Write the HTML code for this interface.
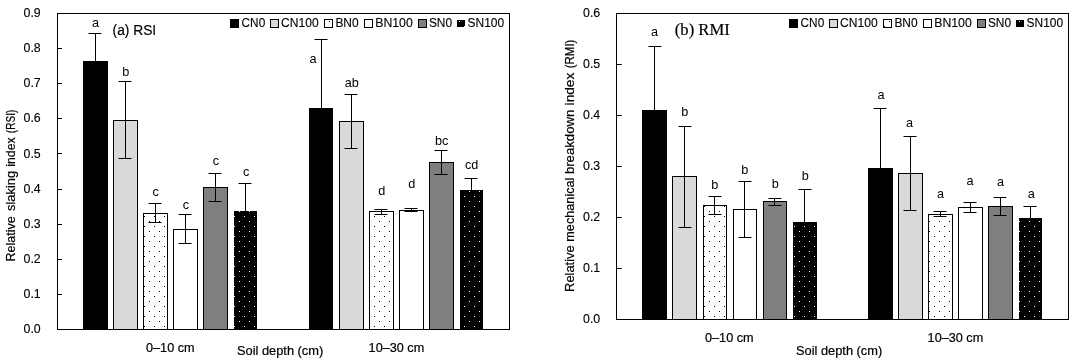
<!DOCTYPE html>
<html><head><meta charset="utf-8"><title>RSI and RMI charts</title>
<style>html,body{margin:0;padding:0;background:#fff}svg{display:block;will-change:transform}</style>
</head><body>
<svg width="1076" height="363" viewBox="0 0 1076 363" fill="#000"><style>.b{stroke:#000;stroke-width:0.2px}.l{stroke:#000;stroke-width:0.18px}.t{stroke:#000;stroke-width:0.12px}</style>
<rect width="1076" height="363" fill="#fff"/>
<defs><pattern id="pk" patternUnits="userSpaceOnUse" width="10" height="10"><rect x="4" y="6" width="1" height="1" fill="#000"/><rect x="9" y="1" width="1" height="1" fill="#000"/></pattern><pattern id="pw" patternUnits="userSpaceOnUse" width="10" height="10"><rect x="4" y="6" width="1" height="1" fill="#fff"/><rect x="9" y="1" width="1" height="1" fill="#fff"/></pattern></defs>
<rect x="83" y="61" width="25" height="268.5" fill="#000"/>
<path d="M95.5 33.0V61M88.5 33.5H101.5" stroke="#000" stroke-width="1" fill="none"/>
<rect x="113.5" y="120.5" width="24.0" height="209.0" fill="#d9d9d9" stroke="#000" stroke-width="1"/>
<path d="M125.5 81.0V159.0M118.5 81.5H131.5M118.5 158.5H131.5" stroke="#000" stroke-width="1" fill="none"/>
<rect x="143.50" y="214.00" width="24.00" height="115.50" fill="url(#pk)"/>
<rect x="143.5" y="213.5" width="24.0" height="116.0" fill="none" stroke="#000" stroke-width="1"/>
<path d="M155.5 203.0V223.0M148.5 203.5H161.5M148.5 222.5H161.5" stroke="#000" stroke-width="1" fill="none"/>
<rect x="173.5" y="229.5" width="24.0" height="100.0" fill="#fff" stroke="#000" stroke-width="1"/>
<path d="M185.5 214.0V244.0M178.5 214.5H191.5M178.5 243.5H191.5" stroke="#000" stroke-width="1" fill="none"/>
<rect x="203.5" y="187.5" width="24.0" height="142.0" fill="#7f7f7f" stroke="#000" stroke-width="1"/>
<path d="M215.5 173.0V202.0M208.5 173.5H221.5M208.5 201.5H221.5" stroke="#000" stroke-width="1" fill="none"/>
<rect x="234" y="211" width="23" height="118.5" fill="#000"/>
<rect x="234.00" y="211.00" width="23.00" height="118.50" fill="url(#pw)"/>
<path d="M245.5 183.0V211M238.5 183.5H251.5" stroke="#000" stroke-width="1" fill="none"/>
<rect x="309" y="108" width="24" height="221.5" fill="#000"/>
<path d="M321.5 39.0V108M314.5 39.5H327.5" stroke="#000" stroke-width="1" fill="none"/>
<rect x="339.5" y="121.5" width="24.0" height="208.0" fill="#d9d9d9" stroke="#000" stroke-width="1"/>
<path d="M351.5 94.0V149.0M344.5 94.5H357.5M344.5 148.5H357.5" stroke="#000" stroke-width="1" fill="none"/>
<rect x="369.50" y="212.00" width="24.00" height="117.50" fill="url(#pk)"/>
<rect x="369.5" y="211.5" width="24.0" height="118.0" fill="none" stroke="#000" stroke-width="1"/>
<path d="M381.5 209.0V215.0M374.5 209.5H387.5M374.5 214.5H387.5" stroke="#000" stroke-width="1" fill="none"/>
<rect x="399.5" y="210.5" width="24.0" height="119.0" fill="#fff" stroke="#000" stroke-width="1"/>
<path d="M411.5 208.0V212.0M404.5 208.5H417.5M404.5 211.5H417.5" stroke="#000" stroke-width="1" fill="none"/>
<rect x="429.5" y="162.5" width="24.0" height="167.0" fill="#7f7f7f" stroke="#000" stroke-width="1"/>
<path d="M441.5 150.0V175.0M434.5 150.5H447.5M434.5 174.5H447.5" stroke="#000" stroke-width="1" fill="none"/>
<rect x="460" y="190" width="23" height="139.5" fill="#000"/>
<rect x="460.00" y="190.00" width="23.00" height="139.50" fill="url(#pw)"/>
<path d="M471.5 178.0V190M464.5 178.5H477.5" stroke="#000" stroke-width="1" fill="none"/>
<rect x="57.5" y="13.5" width="452.0" height="316.00" fill="none" stroke="#000" stroke-width="1"/>
<text x="23.5" y="333.00" font-size="12.3" text-anchor="start" font-family="Liberation Sans, sans-serif" textLength="17.2" lengthAdjust="spacingAndGlyphs" class="t">0.0</text>
<path d="M57.5 294.50h4.4" stroke="#000" stroke-width="1"/>
<text x="23.5" y="298.00" font-size="12.3" text-anchor="start" font-family="Liberation Sans, sans-serif" textLength="17.2" lengthAdjust="spacingAndGlyphs" class="t">0.1</text>
<path d="M57.5 259.50h4.4" stroke="#000" stroke-width="1"/>
<text x="23.5" y="263.00" font-size="12.3" text-anchor="start" font-family="Liberation Sans, sans-serif" textLength="17.2" lengthAdjust="spacingAndGlyphs" class="t">0.2</text>
<path d="M57.5 224.50h4.4" stroke="#000" stroke-width="1"/>
<text x="23.5" y="228.00" font-size="12.3" text-anchor="start" font-family="Liberation Sans, sans-serif" textLength="17.2" lengthAdjust="spacingAndGlyphs" class="t">0.3</text>
<path d="M57.5 189.50h4.4" stroke="#000" stroke-width="1"/>
<text x="23.5" y="193.00" font-size="12.3" text-anchor="start" font-family="Liberation Sans, sans-serif" textLength="17.2" lengthAdjust="spacingAndGlyphs" class="t">0.4</text>
<path d="M57.5 153.50h4.4" stroke="#000" stroke-width="1"/>
<text x="23.5" y="157.60" font-size="12.3" text-anchor="start" font-family="Liberation Sans, sans-serif" textLength="17.2" lengthAdjust="spacingAndGlyphs" class="t">0.5</text>
<path d="M57.5 118.50h4.4" stroke="#000" stroke-width="1"/>
<text x="23.5" y="122.00" font-size="12.3" text-anchor="start" font-family="Liberation Sans, sans-serif" textLength="17.2" lengthAdjust="spacingAndGlyphs" class="t">0.6</text>
<path d="M57.5 83.50h4.4" stroke="#000" stroke-width="1"/>
<text x="23.5" y="87.00" font-size="12.3" text-anchor="start" font-family="Liberation Sans, sans-serif" textLength="17.2" lengthAdjust="spacingAndGlyphs" class="t">0.7</text>
<path d="M57.5 48.50h4.4" stroke="#000" stroke-width="1"/>
<text x="23.5" y="52.00" font-size="12.3" text-anchor="start" font-family="Liberation Sans, sans-serif" textLength="17.2" lengthAdjust="spacingAndGlyphs" class="t">0.8</text>
<text x="23.5" y="17.00" font-size="12.3" text-anchor="start" font-family="Liberation Sans, sans-serif" textLength="17.2" lengthAdjust="spacingAndGlyphs" class="t">0.9</text>
<text class="b" transform="translate(14.7 261.40) rotate(-90)" font-size="12" font-family="Liberation Sans, sans-serif" textLength="45.0" lengthAdjust="spacingAndGlyphs">Relative</text>
<text class="b" transform="translate(14.7 211.00) rotate(-90)" font-size="12" font-family="Liberation Sans, sans-serif" textLength="40.2" lengthAdjust="spacingAndGlyphs">slaking</text>
<text class="b" transform="translate(14.7 166.70) rotate(-90)" font-size="12" font-family="Liberation Sans, sans-serif" textLength="29.3" lengthAdjust="spacingAndGlyphs">index</text>
<text class="b" transform="translate(14.7 133.20) rotate(-90)" font-size="12" font-family="Liberation Sans, sans-serif" textLength="23.5" lengthAdjust="spacingAndGlyphs">(RSI)</text>
<text x="112.6" y="35.2" font-size="14" text-anchor="start" font-family="Liberation Sans, sans-serif" textLength="43.6" lengthAdjust="spacingAndGlyphs" class="l">(a) RSI</text>
<rect x="230.5" y="19.5" width="8" height="8" fill="#000" stroke="#000" stroke-width="1"/>
<text x="241.60" y="26.7" font-size="12.6" text-anchor="start" font-family="Liberation Sans, sans-serif" textLength="23.6" lengthAdjust="spacingAndGlyphs" class="t">CN0</text>
<rect x="270.5" y="19.5" width="8" height="8" fill="#d9d9d9" stroke="#000" stroke-width="1"/>
<text x="281.10" y="26.7" font-size="12.6" text-anchor="start" font-family="Liberation Sans, sans-serif" textLength="37.5" lengthAdjust="spacingAndGlyphs" class="t">CN100</text>
<rect x="324.5" y="19.5" width="8" height="8" fill="#fff" stroke="#000" stroke-width="1"/>
<text x="335.40" y="26.7" font-size="12.6" text-anchor="start" font-family="Liberation Sans, sans-serif" textLength="23.2" lengthAdjust="spacingAndGlyphs" class="t">BN0</text>
<rect x="364.5" y="19.5" width="8" height="8" fill="#fff" stroke="#000" stroke-width="1"/>
<text x="375.20" y="26.7" font-size="12.6" text-anchor="start" font-family="Liberation Sans, sans-serif" textLength="37.6" lengthAdjust="spacingAndGlyphs" class="t">BN100</text>
<rect x="418.5" y="19.5" width="8" height="8" fill="#7f7f7f" stroke="#000" stroke-width="1"/>
<text x="428.90" y="26.7" font-size="12.6" text-anchor="start" font-family="Liberation Sans, sans-serif" textLength="23.2" lengthAdjust="spacingAndGlyphs" class="t">SN0</text>
<rect x="325" y="20" width="7" height="7" fill="url(#pk)"/>
<rect x="457" y="20" width="8" height="7" fill="#000"/><rect x="457" y="20" width="8" height="7" fill="url(#pw)"/>
<text x="467.60" y="26.7" font-size="12.6" text-anchor="start" font-family="Liberation Sans, sans-serif" textLength="36.6" lengthAdjust="spacingAndGlyphs" class="t">SN100</text>
<text x="95.60" y="26.70" font-size="12.7" text-anchor="middle" font-family="Liberation Sans, sans-serif">a</text>
<text x="125.80" y="75.80" font-size="12.7" text-anchor="middle" font-family="Liberation Sans, sans-serif">b</text>
<text x="155.60" y="196.00" font-size="12.7" text-anchor="middle" font-family="Liberation Sans, sans-serif">c</text>
<text x="185.90" y="209.00" font-size="12.7" text-anchor="middle" font-family="Liberation Sans, sans-serif">c</text>
<text x="215.90" y="165.20" font-size="12.7" text-anchor="middle" font-family="Liberation Sans, sans-serif">c</text>
<text x="246.20" y="175.80" font-size="12.7" text-anchor="middle" font-family="Liberation Sans, sans-serif">c</text>
<text x="313.00" y="63.30" font-size="12.7" text-anchor="middle" font-family="Liberation Sans, sans-serif">a</text>
<text x="351.80" y="87.20" font-size="12.7" text-anchor="middle" font-family="Liberation Sans, sans-serif">ab</text>
<text x="381.70" y="194.90" font-size="12.7" text-anchor="middle" font-family="Liberation Sans, sans-serif">d</text>
<text x="411.80" y="187.90" font-size="12.7" text-anchor="middle" font-family="Liberation Sans, sans-serif">d</text>
<text x="441.60" y="144.90" font-size="12.7" text-anchor="middle" font-family="Liberation Sans, sans-serif">bc</text>
<text x="471.70" y="168.70" font-size="12.7" text-anchor="middle" font-family="Liberation Sans, sans-serif">cd</text>
<text x="146.00" y="351.9" font-size="12" text-anchor="start" font-family="Liberation Sans, sans-serif" textLength="48.6" lengthAdjust="spacingAndGlyphs" class="b">0–10 cm</text>
<text x="368.60" y="351.9" font-size="12" text-anchor="start" font-family="Liberation Sans, sans-serif" textLength="55.6" lengthAdjust="spacingAndGlyphs" class="b">10–30 cm</text>
<text x="237.00" y="354.8" font-size="12" text-anchor="start" font-family="Liberation Sans, sans-serif" textLength="86.2" lengthAdjust="spacingAndGlyphs" class="b">Soil depth (cm)</text>
<rect x="642" y="110" width="25" height="209.5" fill="#000"/>
<path d="M654.5 46.0V110M648.5 46.5H661.5" stroke="#000" stroke-width="1" fill="none"/>
<rect x="672.5" y="176.5" width="24.0" height="143.0" fill="#d9d9d9" stroke="#000" stroke-width="1"/>
<path d="M684.5 126.0V228.0M678.5 126.5H691.5M678.5 227.5H691.5" stroke="#000" stroke-width="1" fill="none"/>
<rect x="703.50" y="206.00" width="23.00" height="113.50" fill="url(#pk)"/>
<rect x="703.5" y="205.5" width="23.0" height="114.0" fill="none" stroke="#000" stroke-width="1"/>
<path d="M714.5 196.0V215.0M708.5 196.5H721.5M708.5 214.5H721.5" stroke="#000" stroke-width="1" fill="none"/>
<rect x="733.5" y="209.5" width="23.0" height="110.0" fill="#fff" stroke="#000" stroke-width="1"/>
<path d="M744.5 181.0V238.0M738.5 181.5H751.5M738.5 237.5H751.5" stroke="#000" stroke-width="1" fill="none"/>
<rect x="763.5" y="201.5" width="23.0" height="118.0" fill="#7f7f7f" stroke="#000" stroke-width="1"/>
<path d="M774.5 198.0V206.0M768.5 198.5H781.5M768.5 205.5H781.5" stroke="#000" stroke-width="1" fill="none"/>
<rect x="793" y="222" width="24" height="97.5" fill="#000"/>
<rect x="793.00" y="222.00" width="24.00" height="97.50" fill="url(#pw)"/>
<path d="M804.5 189.0V222M798.5 189.5H811.5" stroke="#000" stroke-width="1" fill="none"/>
<rect x="868" y="168" width="25" height="151.5" fill="#000"/>
<path d="M880.5 108.0V168M873.5 108.5H886.5" stroke="#000" stroke-width="1" fill="none"/>
<rect x="898.5" y="173.5" width="24.0" height="146.0" fill="#d9d9d9" stroke="#000" stroke-width="1"/>
<path d="M910.5 136.0V211.0M903.5 136.5H916.5M903.5 210.5H916.5" stroke="#000" stroke-width="1" fill="none"/>
<rect x="928.50" y="215.00" width="24.00" height="104.50" fill="url(#pk)"/>
<rect x="928.5" y="214.5" width="24.0" height="105.0" fill="none" stroke="#000" stroke-width="1"/>
<path d="M940.5 211.0V217.0M933.5 211.5H946.5M933.5 216.5H946.5" stroke="#000" stroke-width="1" fill="none"/>
<rect x="958.5" y="207.5" width="24.0" height="112.0" fill="#fff" stroke="#000" stroke-width="1"/>
<path d="M970.5 202.0V213.0M963.5 202.5H976.5M963.5 212.5H976.5" stroke="#000" stroke-width="1" fill="none"/>
<rect x="988.5" y="206.5" width="24.0" height="113.0" fill="#7f7f7f" stroke="#000" stroke-width="1"/>
<path d="M1000.5 197.0V216.0M993.5 197.5H1006.5M993.5 215.5H1006.5" stroke="#000" stroke-width="1" fill="none"/>
<rect x="1019" y="218" width="23" height="101.5" fill="#000"/>
<rect x="1019.00" y="218.00" width="23.00" height="101.50" fill="url(#pw)"/>
<path d="M1030.5 206.0V218M1023.5 206.5H1036.5" stroke="#000" stroke-width="1" fill="none"/>
<rect x="616.5" y="13.5" width="452.0" height="306.00" fill="none" stroke="#000" stroke-width="1"/>
<text x="583.0" y="323.00" font-size="12.3" text-anchor="start" font-family="Liberation Sans, sans-serif" textLength="17.2" lengthAdjust="spacingAndGlyphs" class="t">0.0</text>
<path d="M616.5 268.50h5.3" stroke="#000" stroke-width="1"/>
<text x="583.0" y="272.00" font-size="12.3" text-anchor="start" font-family="Liberation Sans, sans-serif" textLength="17.2" lengthAdjust="spacingAndGlyphs" class="t">0.1</text>
<path d="M616.5 217.50h5.3" stroke="#000" stroke-width="1"/>
<text x="583.0" y="221.00" font-size="12.3" text-anchor="start" font-family="Liberation Sans, sans-serif" textLength="17.2" lengthAdjust="spacingAndGlyphs" class="t">0.2</text>
<path d="M616.5 166.50h5.3" stroke="#000" stroke-width="1"/>
<text x="583.0" y="170.00" font-size="12.3" text-anchor="start" font-family="Liberation Sans, sans-serif" textLength="17.2" lengthAdjust="spacingAndGlyphs" class="t">0.3</text>
<path d="M616.5 115.50h5.3" stroke="#000" stroke-width="1"/>
<text x="583.0" y="119.00" font-size="12.3" text-anchor="start" font-family="Liberation Sans, sans-serif" textLength="17.2" lengthAdjust="spacingAndGlyphs" class="t">0.4</text>
<path d="M616.5 64.50h5.3" stroke="#000" stroke-width="1"/>
<text x="583.0" y="68.00" font-size="12.3" text-anchor="start" font-family="Liberation Sans, sans-serif" textLength="17.2" lengthAdjust="spacingAndGlyphs" class="t">0.5</text>
<text x="583.0" y="17.00" font-size="12.3" text-anchor="start" font-family="Liberation Sans, sans-serif" textLength="17.2" lengthAdjust="spacingAndGlyphs" class="t">0.6</text>
<text class="b" transform="translate(574.0 291.90) rotate(-90)" font-size="12" font-family="Liberation Sans, sans-serif" textLength="46.6" lengthAdjust="spacingAndGlyphs">Relative</text>
<text class="b" transform="translate(574.0 241.70) rotate(-90)" font-size="12" font-family="Liberation Sans, sans-serif" textLength="64.1" lengthAdjust="spacingAndGlyphs">mechanical</text>
<text class="b" transform="translate(574.0 174.10) rotate(-90)" font-size="12" font-family="Liberation Sans, sans-serif" textLength="64.5" lengthAdjust="spacingAndGlyphs">breakdown</text>
<text class="b" transform="translate(574.0 105.40) rotate(-90)" font-size="12" font-family="Liberation Sans, sans-serif" textLength="32.6" lengthAdjust="spacingAndGlyphs">index</text>
<text class="b" transform="translate(574.0 68.20) rotate(-90)" font-size="12" font-family="Liberation Sans, sans-serif" textLength="28.6" lengthAdjust="spacingAndGlyphs">(RMI)</text>
<text x="674.8" y="35.2" font-size="16" text-anchor="start" font-family="Liberation Serif, serif" textLength="55.0" lengthAdjust="spacingAndGlyphs" class="l">(b) RMI</text>
<rect x="789.5" y="19.5" width="8" height="8" fill="#000" stroke="#000" stroke-width="1"/>
<text x="800.60" y="26.7" font-size="12.6" text-anchor="start" font-family="Liberation Sans, sans-serif" textLength="23.6" lengthAdjust="spacingAndGlyphs" class="t">CN0</text>
<rect x="829.5" y="19.5" width="8" height="8" fill="#d9d9d9" stroke="#000" stroke-width="1"/>
<text x="840.10" y="26.7" font-size="12.6" text-anchor="start" font-family="Liberation Sans, sans-serif" textLength="37.5" lengthAdjust="spacingAndGlyphs" class="t">CN100</text>
<rect x="883.5" y="19.5" width="8" height="8" fill="#fff" stroke="#000" stroke-width="1"/>
<text x="894.40" y="26.7" font-size="12.6" text-anchor="start" font-family="Liberation Sans, sans-serif" textLength="23.2" lengthAdjust="spacingAndGlyphs" class="t">BN0</text>
<rect x="923.5" y="19.5" width="8" height="8" fill="#fff" stroke="#000" stroke-width="1"/>
<text x="934.20" y="26.7" font-size="12.6" text-anchor="start" font-family="Liberation Sans, sans-serif" textLength="37.6" lengthAdjust="spacingAndGlyphs" class="t">BN100</text>
<rect x="977.5" y="19.5" width="8" height="8" fill="#7f7f7f" stroke="#000" stroke-width="1"/>
<text x="987.90" y="26.7" font-size="12.6" text-anchor="start" font-family="Liberation Sans, sans-serif" textLength="23.2" lengthAdjust="spacingAndGlyphs" class="t">SN0</text>
<rect x="884" y="20" width="7" height="7" fill="url(#pk)"/>
<rect x="1016" y="20" width="8" height="7" fill="#000"/><rect x="1016" y="20" width="8" height="7" fill="url(#pw)"/>
<text x="1026.60" y="26.7" font-size="12.6" text-anchor="start" font-family="Liberation Sans, sans-serif" textLength="36.6" lengthAdjust="spacingAndGlyphs" class="t">SN100</text>
<text x="654.60" y="35.90" font-size="12.7" text-anchor="middle" font-family="Liberation Sans, sans-serif">a</text>
<text x="684.80" y="115.50" font-size="12.7" text-anchor="middle" font-family="Liberation Sans, sans-serif">b</text>
<text x="714.90" y="188.90" font-size="12.7" text-anchor="middle" font-family="Liberation Sans, sans-serif">b</text>
<text x="744.90" y="174.00" font-size="12.7" text-anchor="middle" font-family="Liberation Sans, sans-serif">b</text>
<text x="775.30" y="188.10" font-size="12.7" text-anchor="middle" font-family="Liberation Sans, sans-serif">b</text>
<text x="805.30" y="179.70" font-size="12.7" text-anchor="middle" font-family="Liberation Sans, sans-serif">b</text>
<text x="881.10" y="98.70" font-size="12.7" text-anchor="middle" font-family="Liberation Sans, sans-serif">a</text>
<text x="909.60" y="126.80" font-size="12.7" text-anchor="middle" font-family="Liberation Sans, sans-serif">a</text>
<text x="940.50" y="198.00" font-size="12.7" text-anchor="middle" font-family="Liberation Sans, sans-serif">a</text>
<text x="970.10" y="185.30" font-size="12.7" text-anchor="middle" font-family="Liberation Sans, sans-serif">a</text>
<text x="1000.50" y="186.30" font-size="12.7" text-anchor="middle" font-family="Liberation Sans, sans-serif">a</text>
<text x="1031.40" y="197.60" font-size="12.7" text-anchor="middle" font-family="Liberation Sans, sans-serif">a</text>
<text x="705.00" y="341.9" font-size="12" text-anchor="start" font-family="Liberation Sans, sans-serif" textLength="48.6" lengthAdjust="spacingAndGlyphs" class="b">0–10 cm</text>
<text x="927.60" y="341.9" font-size="12" text-anchor="start" font-family="Liberation Sans, sans-serif" textLength="55.6" lengthAdjust="spacingAndGlyphs" class="b">10–30 cm</text>
<text x="796.00" y="354.8" font-size="12" text-anchor="start" font-family="Liberation Sans, sans-serif" textLength="86.2" lengthAdjust="spacingAndGlyphs" class="b">Soil depth (cm)</text>
</svg>
</body></html>
